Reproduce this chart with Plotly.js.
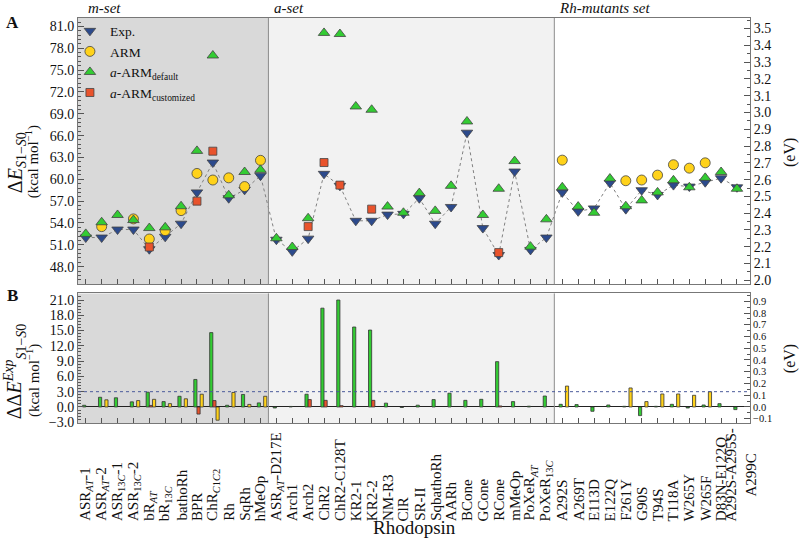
<!DOCTYPE html>
<html>
<head>
<meta charset="utf-8">
<script src="https://cdn.plot.ly/plotly-3.0.1.min.js"></script>
<style>html,body{margin:0;padding:0;background:#fff;}#chart{width:800px;height:541px;}</style>
</head>
<body>
<div id="chart"></div>
<script>
// ---------- data ----------
const categories = [
  'ASR<sub><i>AT</i></sub>-1','ASR<sub><i>AT</i></sub>-2','ASR<sub>13<i>C</i></sub>-1','ASR<sub>13<i>C</i></sub>-2',
  'bR<sub><i>AT</i></sub>','bR<sub>13<i>C</i></sub>','bathoRh','BPR','ChR<sub><i>C</i>1<i>C</i>2</sub>','Rh','SqRh','hMeOp',
  'ASR<sub><i>AT</i></sub>-D217E','Arch1','Arch2','ChR2','ChR2-C128T','KR2-1','KR2-2','NM-R3','ClR','SR-II',
  'SqbathoRh','AARh','BCone','GCone','RCone','mMeOp','PoXeR<sub><i>AT</i></sub>','PoXeR<sub>13<i>C</i></sub>',
  'A292S','A269T','E113D','E122Q','F261Y','G90S','T94S','T118A','W265Y','W265F','D83N-E122Q','A292S-A295S-<br>A299C'
];
const sets = ['<i>m-set</i>','<i>a-set</i>','<i>Rh-mutants set</i>'];

// excitation energies (kcal/mol)
const expE = [52.0,52.0,53.1,53.1,50.4,52.1,53.9,58.2,62.3,57.4,58.55,60.5,
  51.7,50.1,51.85,60.75,59.1,54.3,54.3,55.15,55.25,57.4,53.9,56.2,66.4,53.3,49.6,61.07,50.3,52.0,
  58.2,55.6,56.0,59.5,55.9,58.5,57.85,59.2,59.0,59.6,60.15,58.9];
const armE = [null,53.5,null,54.56,51.8,52.95,55.7,60.8,59.9,60.2,59.0,62.6,
  null,null,null,null,null,null,null,null,null,null,null,null,null,null,null,null,null,null,
  62.63,null,null,null,59.8,59.9,60.57,62.0,61.53,62.26,null,null];
const aDefE = [52.5,54.1,55.1,54.4,53.3,53.4,56.3,63.9,77.0,57.8,61.0,61.3,
  51.9,50.7,54.65,80.1,79.95,70.0,69.55,56.25,55.4,58.1,55.66,59.1,67.94,55.1,58.7,62.5,50.75,54.5,
  58.9,56.25,55.4,60.1,56.3,57.1,58.2,59.86,58.9,60.2,61.0,58.7];
const aCusE = [null,null,null,null,50.7,null,null,57.0,63.86,null,null,null,
  null,null,53.5,62.3,59.2,null,55.9,null,null,null,null,null,null,null,49.93,null,null,null,
  null,null,null,null,null,null,null,null,null,null,null,null];

// errors vs experiment (kcal/mol)
const dDef = [0.33,1.9,1.8,1.0,2.9,1.05,2.1,5.4,14.6,0.33,2.45,0.8,
  -0.2,0.1,2.5,19.4,21.0,15.7,15.1,0.75,-0.1,0.35,1.45,2.7,1.3,1.5,8.9,1.05,0.15,2.15,
  0.52,0.46,-0.85,0.39,0.13,-1.7,0.13,0.52,-0.2,0.39,0.65,-0.52];
const dCus = [null,null,null,null,0.3,null,null,-1.4,1.25,null,null,null,
  null,null,1.45,1.3,0.26,null,1.3,null,null,null,null,null,null,null,0.2,null,null,null,
  null,null,null,null,null,null,null,null,null,null,null,null];
const dArm = [null,1.4,null,1.25,1.5,0.65,1.6,2.5,-2.6,2.85,0.5,2.1,
  null,null,null,null,null,null,null,null,null,null,null,null,null,null,null,null,null,null,
  4.1,null,null,null,3.73,1.05,2.55,2.55,2.29,3.0,null,null];

const threshold = 3.0;      // kcal/mol
const KCAL_PER_EV = 23.06;

// ---------- styling ----------
const FONT = 'Liberation Serif, DejaVu Serif, serif';
const idx = categories.map((_, i) => i);
const C = {exp:'#2c4a8c', arm:'#ffd21a', def:'#33cc33', cus:'#e9532c', edge:'#444'};
const xr = [-0.49, 41.82];
const yTop = [45.58, 82.15];
const yBot = [-3.15, 22.3];
const domTop = [0.3425, 1];
const domBot = [0, 0.320];

const traces = [
  {x: idx, y: expE, mode:'lines', line:{dash:'dot', color:'#808080', width:1}, showlegend:false, hoverinfo:'skip', xaxis:'x', yaxis:'y'},
  {x: idx, y: expE, mode:'markers', name:'Exp.', marker:{symbol:'triangle-down', size:10, color:C.exp, line:{color:C.edge, width:0.8}}, xaxis:'x', yaxis:'y'},
  {x: idx, y: armE, mode:'markers', name:'ARM', marker:{symbol:'circle', size:10, color:C.arm, line:{color:C.edge, width:0.8}}, xaxis:'x', yaxis:'y'},
  {x: idx, y: aDefE, mode:'markers', name:'<i>a</i>-ARM<sub>default</sub>', marker:{symbol:'triangle-up', size:10, color:C.def, line:{color:C.edge, width:0.8}}, xaxis:'x', yaxis:'y'},
  {x: idx, y: aCusE, mode:'markers', name:'<i>a</i>-ARM<sub>customized</sub>', marker:{symbol:'square', size:8, color:C.cus, line:{color:C.edge, width:0.8}}, xaxis:'x', yaxis:'y'},
  // same experimental values in eV on the secondary axes (invisible, only to activate the eV axes)
  {x: idx, y: expE.map(v => v / KCAL_PER_EV), mode:'markers', marker:{opacity:0}, showlegend:false, hoverinfo:'skip', xaxis:'x', yaxis:'y3'},
  {type:'bar', x: idx, y: dDef, width:0.2, offset:-0.2, marker:{color:C.def, line:{color:'#333', width:0.8}}, showlegend:false, xaxis:'x2', yaxis:'y2'},
  {type:'bar', x: idx, y: dCus, width:0.2, offset:0, marker:{color:C.cus, line:{color:'#333', width:0.8}}, showlegend:false, xaxis:'x2', yaxis:'y2'},
  {type:'bar', x: idx, y: dArm, width:0.2, offset:0.2, marker:{color:C.arm, line:{color:'#333', width:0.8}}, showlegend:false, xaxis:'x2', yaxis:'y2'},
  {x: idx, y: dDef.map(v => v / KCAL_PER_EV), mode:'markers', marker:{opacity:0}, showlegend:false, hoverinfo:'skip', xaxis:'x2', yaxis:'y4'}
];

const axisCommon = {showgrid:false, zeroline:false, showline:true, linecolor:'#777', linewidth:1,
  ticks:'inside', tickcolor:'#555', tickfont:{family:FONT, size:14, color:'#111'}};

function range(a, b, s){ const out=[]; for(let v=a; v<=b+1e-9; v+=s) out.push(+v.toFixed(4)); return out; }

const shapes = [];
const bounds = [xr[0], 11.5, 29.5, xr[1]];
const fills = ['#d9d9d9', '#f2f2f2'];
[['x','y domain'],['x2','y2 domain']].forEach(([xa, ya]) => {
  for (let k = 0; k < 2; k++) {
    shapes.push({type:'rect', xref:xa, yref:ya, x0:bounds[k], x1:bounds[k+1], y0:0, y1:1, fillcolor:fills[k], line:{width:0}, layer:'below'});
  }
  [11.5, 29.5].forEach(b => shapes.push({type:'line', xref:xa, yref:ya, x0:b, x1:b, y0:0, y1:1, line:{color:'#8c8c8c', width:1}}));
});
shapes.push({type:'line', xref:'x2 domain', yref:'y2', x0:0, x1:1, y0:threshold, y1:threshold, line:{color:'#4b5b9b', width:1, dash:'dot'}});

const annotations = [];
categories.forEach((c, i) => annotations.push({text:c, x:i, xref:'x2', y:-0.247, yref:'paper', xanchor:'center', yanchor:'bottom',
  xshift: c.indexOf('<br>') >= 0 ? 4 : 0,
  textangle:-90, showarrow:false, font:{family:FONT, size:15, color:'#111'}}));
const setX = [0, 11.7, 29.65];
sets.forEach((s, k) => annotations.push({text:s, x:setX[k], xref:'x', y:1.0247, yref:'paper', xanchor:'left', yanchor:'middle',
  showarrow:false, font:{family:FONT, size:15, color:'#111'}}));
function note(text, x, y, size, angle){
  annotations.push({text:text, x:x, y:y, xref:'paper', yref:'paper', xanchor:'center', yanchor:'middle', textangle:angle || 0,
    showarrow:false, font:{family:FONT, size:size, color:'#111'}});
}
note('<b>A</b>', -0.0982, 0.990, 17);
note('<b>B</b>', -0.0982, 0.316, 17);
note('Δ<i>E</i><sub><i>S</i>1−<i>S</i>0</sub>', -0.0923, 0.644, 20, -90);
note('(kcal mol<sup>−1</sup>)', -0.0685, 0.646, 15, -90);
note('ΔΔ<i>E</i><sup><i>Exp</i></sup><sub><i>S</i>1−<i>S</i>0</sub>', -0.0935, 0.128, 20, -90);
note('(kcal mol<sup>−1</sup>)', -0.0670, 0.106, 15, -90);
note('(eV)', 1.0595, 0.669, 16, -90);
note('(eV)', 1.0595, 0.160, 16, -90);
note('Rhodopsin', 0.5, -0.257, 19);

const layout = {
  width:800, height:541,
  margin:{l:78, r:50, t:18, b:118},
  paper_bgcolor:'#fff', plot_bgcolor:'#fff',
  font:{family:FONT, color:'#111'},
  barmode:'overlay',
  showlegend:true,
  legend:{x:-0.012, y:1.006, xanchor:'left', yanchor:'top', bgcolor:'rgba(0,0,0,0)', font:{family:FONT, size:13.5, color:'#111'}, tracegroupgap:0},
  xaxis:Object.assign({}, axisCommon, {domain:[0,1], anchor:'y', range:xr, tickvals:idx, showticklabels:false, ticklen:5, mirror:true}),
  yaxis:Object.assign({}, axisCommon, {domain:domTop, anchor:'x', range:yTop, tickvals:range(48,81,3), tickformat:'.1f', ticklen:6, mirror:true,
    minor:{ticks:'inside', ticklen:3, dtick:0.6, tickcolor:'#555'}}),
  yaxis3:Object.assign({}, axisCommon, {overlaying:'y', anchor:'x', side:'right', range:[yTop[0]/KCAL_PER_EV, yTop[1]/KCAL_PER_EV], dtick:0.1, tick0:0, tickformat:'.1f', ticklen:6,
    minor:{ticks:'inside', ticklen:3, dtick:0.05, tickcolor:'#555'}}),
  xaxis2:Object.assign({}, axisCommon, {domain:[0,1], anchor:'y2', range:xr, tickvals:idx, showticklabels:false, ticklen:5, mirror:true}),
  yaxis2:Object.assign({}, axisCommon, {domain:domBot, anchor:'x2', range:yBot, tickvals:range(-3,21,3), tickformat:'.1f', ticklen:6, mirror:true,
    zeroline:true, zerolinecolor:'#222', zerolinewidth:1,
    minor:{ticks:'inside', ticklen:3, dtick:0.6, tickcolor:'#555'}}),
  yaxis4:Object.assign({}, axisCommon, {overlaying:'y2', anchor:'x2', side:'right', range:[yBot[0]/KCAL_PER_EV, yBot[1]/KCAL_PER_EV], dtick:0.1, tick0:0, tickformat:'.1f', ticklen:6,
    tickfont:{family:FONT, size:10.5, color:'#111'},
    minor:{ticks:'inside', ticklen:3, dtick:0.05, tickcolor:'#555'}}),
  shapes:shapes,
  annotations:annotations
};

Plotly.newPlot('chart', traces, layout, {displayModeBar:false, staticPlot:true});
</script>
</body>
</html>
